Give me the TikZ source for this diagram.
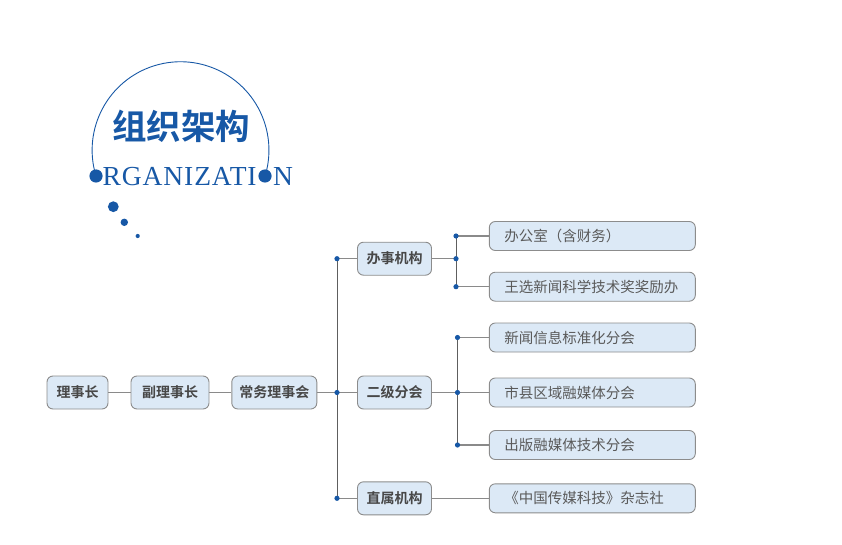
\documentclass[tikz,border=0pt]{standalone}
\usepackage{fontspec}
\setmainfont{Liberation Serif}
\newfontfamily\cjk{Noto Sans CJK SC}
\newfontfamily\cjkb{Noto Sans CJK SC Bold}
\definecolor{brandblue}{HTML}{1758A6}
\definecolor{boxfill}{HTML}{DCE9F6}
\definecolor{boxline}{HTML}{8C8C8C}
\definecolor{txtdark}{HTML}{474747}
\definecolor{txtlight}{HTML}{5A5A5A}
\definecolor{trunk}{HTML}{5E5E5E}
\definecolor{branch}{HTML}{8A8A8A}
\tikzset{
  mainbox/.style={draw=boxline, fill=boxfill, rounded corners=6pt, line width=0.9pt,
    minimum height=33pt, inner sep=0pt, text=txtdark, font=\cjkb\fontsize{14}{16}\selectfont},
  subbox/.style={draw=boxline, fill=boxfill, rounded corners=6pt, line width=0.9pt,
    minimum height=29pt, text width=176pt, inner xsep=15pt, inner ysep=0pt, align=left,
    text=txtlight, font=\cjk\fontsize{14.5}{16}\selectfont},
  trunkline/.style={draw=trunk, line width=1pt},
  branchline/.style={draw=branch, line width=1.1pt},
  jdot/.style={fill=brandblue, draw=none},
}
\begin{document}
\begin{tikzpicture}[x=1pt,y=-1pt]
\useasboundingbox (0,0) rectangle (842,545);
% ---- header ----
\coordinate (arcL) at (96,176);
\draw[brandblue, line width=0.9pt] (arcL) arc[start angle=163, end angle=377, radius=88.4];
\fill[brandblue] (96,176) circle (6.6);
\fill[brandblue] (265,176) circle (6.6);
\node[brandblue, font=\cjkb\fontsize{34.5}{38}\selectfont, inner sep=0pt] (title) at (181,126) {组织架构};
\node[brandblue, font=\fontsize{27.5}{30}\selectfont\addfontfeatures{LetterSpace=3.3}, anchor=base west, inner sep=0pt] (org) at (102.5,185.5) {RGANIZATI};
\node[brandblue, font=\fontsize{27.5}{30}\selectfont, anchor=base west, inner sep=0pt] (orgn) at (273,185.5) {N};
\fill[brandblue] (113.3,206.7) circle (5.4);
\fill[brandblue] (124.3,222.3) circle (3.7);
\fill[brandblue] (137.7,236) circle (2.1);
% ---- boxes ----
\node[mainbox, minimum width=61pt] (lsz) at (77.5,392.5) {理事长};
\node[mainbox, minimum width=78pt] (flsz) at (170,392.5) {副理事长};
\node[mainbox, minimum width=85pt] (cwlsh) at (274.3,392.5) {常务理事会};
\node[mainbox, minimum width=74pt] (bsjg) at (394.5,258.7) {办事机构};
\node[mainbox, minimum width=74pt] (ejfh) at (394.5,392.5) {二级分会};
\node[mainbox, minimum width=74pt] (zsjg) at (394.5,498.3) {直属机构};
\node[subbox] (r1) at (592.3,236) {办公室（含财务）};
\node[subbox] (r2) at (592.3,286.7) {王选新闻科学技术奖奖励办};
\node[subbox] (r3) at (592.3,337.5) {新闻信息标准化分会};
\node[subbox] (r4) at (592.3,392.5) {市县区域融媒体分会};
\node[subbox] (r5) at (592.3,445) {出版融媒体技术分会};
\node[subbox] (r6) at (592.3,498.3) {《中国传媒科技》杂志社};
% ---- junctions ----
\coordinate (j1) at (337,258.7);
\coordinate (j2) at (337,392.5);
\coordinate (j3) at (337,498.3);
\coordinate (a1) at (456,236);
\coordinate (a2) at (456,258.7);
\coordinate (a3) at (456,286.7);
\coordinate (b1) at (457.5,337.5);
\coordinate (b2) at (457.5,392.5);
\coordinate (b3) at (457.5,445);
% ---- connectors ----
\draw[branchline] (lsz.east) -- (flsz.west);
\draw[branchline] (flsz.east) -- (cwlsh.west);
\draw[branchline] (cwlsh.east) -- (j2) -- (ejfh.west);
\draw[branchline] (j1) -- (bsjg.west);
\draw[branchline] (j3) -- (zsjg.west);
\draw[branchline] (bsjg.east) -- (a2);
\draw[branchline] (a1) -- (r1.west);
\draw[branchline] (a3) -- (r2.west);
\draw[branchline] (ejfh.east) -- (b2) -- (r4.west);
\draw[branchline] (b1) -- (r3.west);
\draw[branchline] (b3) -- (r5.west);
\draw[branchline] (zsjg.east) -- (r6.west);
\draw[trunkline] (j1) -- (j3);
\draw[trunkline] (a1) -- (a3);
\draw[trunkline] (b1) -- (b3);
\foreach \p in {j1,j2,j3,a1,a2,a3,b1,b2,b3} \fill[jdot] (\p) circle (2.6);
\end{tikzpicture}
\end{document}
